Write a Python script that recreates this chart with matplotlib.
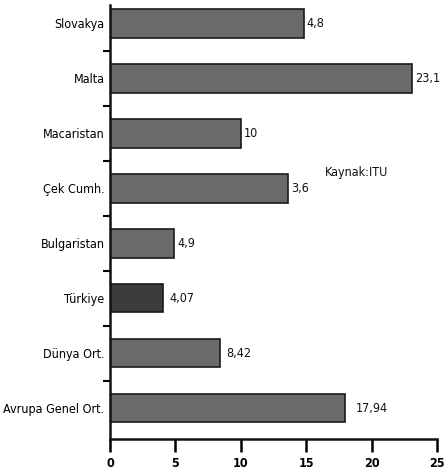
import matplotlib
matplotlib.use("Agg")
import matplotlib.pyplot as plt
from matplotlib.ticker import FixedLocator

categories = ["Avrupa Genel Ort.", "Dünya Ort.", "Türkiye", "Bulgaristan",
              "Çek Cumh.", "Macaristan", "Malta", "Slovakya"]
values = [17.94, 8.42, 4.07, 4.9, 13.6, 10, 23.1, 14.8]
value_labels = ["17,94", "8,42", "4,07", "4,9", "3,6", "10", "23,1", "4,8"]
x_ticks = [0, 5, 10, 15, 20, 25]
source_note = "Kaynak:ITU"

plt.rcParams['font.family'] = ["DejaVu Sans"]
plt.rcParams['font.stretch'] = "condensed"

fig = plt.figure(figsize=(4.48, 4.74), dpi=100)
ax = fig.add_axes([0.2455, 0.074, 0.73, 0.915])

colors = ["#6a6a6a"] * len(categories)
colors[categories.index("Türkiye")] = "#3c3c3c"
ypos = list(range(len(categories)))
ax.barh(ypos, values, height=0.52, color=colors, edgecolor="#1a1a1a", linewidth=1.2)

offsets = {"Avrupa Genel Ort.": 11, "Dünya Ort.": 6, "Türkiye": 6}
for y, v, lab, cat in zip(ypos, values, value_labels, categories):
    ax.annotate(lab, (v, y), xytext=(offsets.get(cat, 3), 0), textcoords="offset pixels",
                va="center", ha="left", fontsize=9, color="#111")

ax.text(16.4, 4.29, source_note, fontsize=9, va="center", ha="left", color="#111")

ax.set_xlim(0, 25)
ax.set_ylim(-0.56, 7.33)
ax.set_xticks(x_ticks)
ax.set_xticklabels([str(t) for t in x_ticks], fontsize=9, fontweight="bold")
ax.set_yticks(ypos)
ax.set_yticklabels(categories, fontsize=9)
ax.yaxis.set_minor_locator(FixedLocator([k + 0.5 for k in range(len(categories) - 1)]))
ax.tick_params(axis="y", which="major", length=0, pad=4)
ax.tick_params(axis="y", which="minor", length=5, width=1.5, direction="out")
ax.tick_params(axis="x", which="major", length=9, width=1.8, direction="out", pad=4)

for s in ["top", "right"]:
    ax.spines[s].set_visible(False)
for s in ["left", "bottom"]:
    ax.spines[s].set_linewidth(1.8)
    ax.spines[s].set_color("#111")

fig.savefig("out.png", dpi=100, facecolor="white")
